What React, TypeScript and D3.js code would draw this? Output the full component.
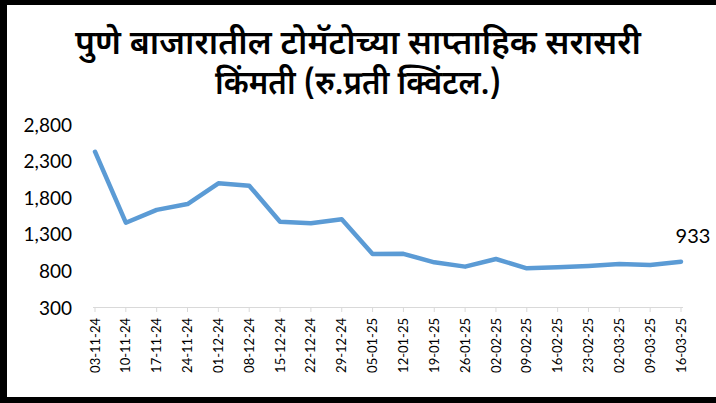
import * as d3 from 'd3';

const dates = [
  '03-11-24', '10-11-24', '17-11-24', '24-11-24', '01-12-24', '08-12-24', '15-12-24',
  '22-12-24', '29-12-24', '05-01-25', '12-01-25', '19-01-25', '26-01-25', '02-02-25',
  '09-02-25', '16-02-25', '23-02-25', '02-03-25', '09-03-25', '16-03-25',
];
const prices = [
  2435, 1465, 1640, 1720, 2003, 1971, 1479, 1457, 1512, 1038,
  1040, 924, 865, 969, 842, 856, 874, 901, 887, 933,
];
const yTicks = [300, 800, 1300, 1800, 2300, 2800];
const titleLines = ['पुणे बाजारातील टोमॅटोच्या साप्ताहिक सरासरी', 'किंमती (रु.प्रती क्विंटल.)'];

const W = 716;
const H = 403;

export default function App() {
  const x = d3.scalePoint<string>().domain(dates).range([95, 681]);
  const y = d3.scaleLinear().domain([300, 2800]).range([308, 125]);
  const line = d3.line<number>()
    .x((_, i) => x(dates[i]) as number)
    .y(d => y(d));
  const lastI = prices.length - 1;
  const numFont = 'Lato, "Open Sans", sans-serif';

  return (
    <svg width={W} height={H} style={{ position: 'fixed', left: 0, top: 0, background: '#fff' }}>
      <rect x={0} y={0} width={W} height={H} fill="#fff" />
      {/* frame: top, left, bottom */}
      <rect x={0} y={0} width={W} height={5} fill="#000" />
      <rect x={0} y={0} width={7} height={H} fill="#000" />
      <rect x={0} y={397} width={W} height={6} fill="#000" />

      {titleLines.map((t, i) => (
        <text key={i} x={358} y={54 + i * 40} textAnchor="middle" fontSize={33}
          fontWeight={600} fontFamily='"Noto Sans Devanagari", "Noto Sans", sans-serif' fill="#000"
          textLength={i === 0 ? 566 : 286} lengthAdjust="spacingAndGlyphs">
          {t}
        </text>
      ))}

      {yTicks.map(t => (
        <text key={t} x={72} y={y(t)} dy="0.35em" textAnchor="end" fontSize={19}
          fontFamily={numFont} fill="#000">
          {d3.format(',')(t)}
        </text>
      ))}

      <line x1={93} x2={683} y1={307.5} y2={307.5} stroke="#d9d9d9" strokeWidth={1} />
      {dates.map(d => (
        <g key={d} transform={`translate(${x(d)},0)`}>
          <line x1={0} x2={0} y1={307.5} y2={312} stroke="#d9d9d9" />
          <text transform="translate(0,318) rotate(-90)" dy="0.35em" textAnchor="end"
            fontSize={13} fontFamily={numFont} fill="#000">
            {d}
          </text>
        </g>
      ))}

      <path d={line(prices) ?? ''} fill="none" stroke="#5b9bd5" strokeWidth={4.5}
        strokeLinejoin="round" strokeLinecap="round" />

      <text x={(x(dates[lastI]) as number) + 12} y={y(prices[lastI]) - 19} textAnchor="middle"
        fontSize={20} fontFamily={numFont} fill="#000">
        {prices[lastI]}
      </text>
    </svg>
  );
}
